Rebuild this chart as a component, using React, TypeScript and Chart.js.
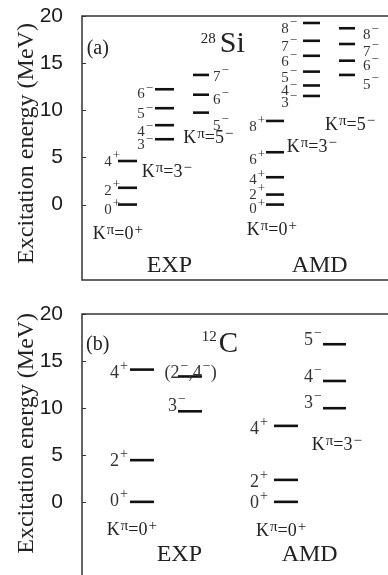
import React, { useEffect, useRef } from 'react';
import { Chart, registerables } from 'chart.js';

Chart.register(...registerables);

// ---------------- data ----------------
const yTicks = [0, 5, 10, 15, 20];
const yMin = -8;
const yMax = 20;
const axisTitle = 'Excitation energy (MeV)';
const columnTitles = ['EXP', 'AMD'];

// 28Si  (MeV)
const siExpK0E = [0, 1.78, 4.62];
const siExpK0J = ['0^+', '2^+', '4^+'];
const siExpK3E = [6.93, 8.42, 10.22, 12.23];
const siExpK3J = ['3^−', '4^−', '5^−', '6^−'];
const siExpK5E = [9.75, 11.65, 13.75];
const siExpK5J = ['5^−', '6^−', '7^−'];
const siAmdK0E = [0, 1.06, 2.9, 5.55, 8.87];
const siAmdK0J = ['0^+', '2^+', '4^+', '6^+', '8^+'];
const siAmdK3E = [11.52, 12.63, 14.1, 15.78, 17.37, 19.26];
const siAmdK3J = ['3^−', '4^−', '5^−', '6^−', '7^−', '8^−'];
const siAmdK5E = [13.75, 15.26, 17.03, 18.7];
const siAmdK5J = ['5^−', '6^−', '7^−', '8^−'];

// 12C  (MeV)
const cExpK0E = [0, 4.44, 14.08];
const cExpK0J = ['0^+', '2^+', '4^+'];
const cExpK3E = [9.64, 13.35];
const cExpK3J = ['3^−', '(2^−,4^−)'];
const cAmdK0E = [0, 2.34, 8.09];
const cAmdK0J = ['0^+', '2^+', '4^+'];
const cAmdK3E = [9.97, 12.87, 16.78];
const cAmdK3J = ['3^−', '4^−', '5^−'];

// ---------------- styles / layout ----------------
const SERIF = '"Liberation Serif", "Times New Roman", Times, serif';
const SANS = '"Liberation Sans", Arial, Helvetica, sans-serif';
const X_MAX = 318; // x units: pixels from plot's left edge

type Rich = { size: number; sup: number; raise: number; supGap: number; afterSup?: number };
type Band = {
  E: number[];
  J: string[];
  tag: string | null;
  x: [number, number];
  side: 'left' | 'right';
  gap: number[];
  dy: number[];
  tagAt: [number, number];
};
type Panel = {
  name: string;
  letter: string;
  nameAt: [number, number];
  letterAt: [number, number];
  titlesAt: [number, number][];
  titleE: number;
  spin: Rich;
  nameStyle: Rich;
  bands: Band[];
};

const bandStyle: Rich = { size: 18, sup: 15, raise: 5, supGap: 1 };

const panelA: Panel = {
  name: '^{28}Si',
  letter: '(a)',
  nameAt: [118.7, 16.2],
  letterAt: [4.7, 15.97],
  titlesAt: [[64.7, -7.1], [209.7, -7.1]],
  titleE: 6.48,
  spin: { size: 15, sup: 13, raise: 6.5, supGap: 1 },
  nameStyle: { size: 30, sup: 15, raise: 8.5, supGap: 0, afterSup: 4 },
  bands: [
    { E: siExpK0E, J: siExpK0J, tag: 'K^π=0^+', x: [36, 55], side: 'left', gap: [-2, -2, -2], dy: [4, 2, 0], tagAt: [10.7, -3.64] },
    { E: siExpK3E, J: siExpK3J, tag: 'K^π=3^−', x: [73, 92], side: 'left', gap: [2, 2, 2, 2], dy: [5, 6, 5, 4], tagAt: [59.7, 2.94] },
    { E: siExpK5E, J: siExpK5J, tag: 'K^π=5^−', x: [111, 127], side: 'right', gap: [4, 4, 4], dy: [12, 4, 1], tagAt: [101.3, 6.54] },
    { E: siAmdK0E, J: siAmdK0J, tag: 'K^π=0^+', x: [184, 202], side: 'left', gap: [1, 1, 1, 1, 1], dy: [3.5, -1, 2, 7, 5], tagAt: [164.7, -3.21] },
    { E: siAmdK3E, J: siAmdK3J, tag: 'K^π=3^−', x: [221, 238], side: 'left', gap: [6, 6, 6, 6, 6, 6], dy: [6, 5, 5, 5, 5, 5], tagAt: [204.7, 5.59] },
    { E: siAmdK5E, J: siAmdK5J, tag: 'K^π=5^−', x: [257, 273], side: 'right', gap: [8, 8, 8, 8], dy: [9, 4, 7, 6], tagAt: [243, 7.92] },
  ],
};

const panelB: Panel = {
  name: '^{12}C',
  letter: '(b)',
  nameAt: [119.7, 16.0],
  letterAt: [4, 16.17],
  titlesAt: [[74.7, -6.28], [199.7, -6.28]],
  titleE: 7.3,
  spin: { size: 18, sup: 14, raise: 8, supGap: 1 },
  nameStyle: { size: 29, sup: 15, raise: 11, supGap: 0, afterSup: 2 },
  bands: [
    { E: cExpK0E, J: cExpK0J, tag: 'K^π=0^+', x: [48, 72], side: 'left', gap: [2, 2, 2], dy: [-1.5, 0, 2], tagAt: [24.7, -3.51] },
    { E: cExpK3E, J: cExpK3J, tag: null, x: [96, 120], side: 'left', gap: [-8, -38.7], dy: [-6, -4], tagAt: [0, 0] },
    { E: cAmdK0E, J: cAmdK0J, tag: 'K^π=0^+', x: [192, 216], side: 'left', gap: [6, 6, 6], dy: [0.5, 1, 2], tagAt: [174, -3.62] },
    { E: cAmdK3E, J: cAmdK3J, tag: 'K^π=3^−', x: [241, 264], side: 'left', gap: [1, 1, 1], dy: [-6, -5, -5], tagAt: [229.7, 5.53] },
  ],
};

// ---------------- rich text ----------------
type Tok = { t: string; sup: boolean };
function parseRich(s: string): Tok[] {
  const out: Tok[] = [];
  let buf = '';
  for (let i = 0; i < s.length; i++) {
    const c = s[i];
    if (c === '^' && i + 1 < s.length) {
      if (buf) { out.push({ t: buf, sup: false }); buf = ''; }
      if (s[i + 1] === '{') {
        const end = s.indexOf('}', i + 2);
        out.push({ t: s.slice(i + 2, end), sup: true });
        i = end;
      } else {
        out.push({ t: s[i + 1], sup: true });
        i++;
      }
    } else buf += c;
  }
  if (buf) out.push({ t: buf, sup: false });
  return out;
}

function drawRich(ctx: CanvasRenderingContext2D, s: string, x: number, y: number, align: 'left' | 'right', st: Rich, color: string) {
  const toks = parseRich(s);
  const after = st.afterSup || 0;
  const widths = toks.map((tk) => {
    ctx.font = `${tk.sup ? st.sup : st.size}px ${SERIF}`;
    return ctx.measureText(tk.t).width + (tk.sup ? st.supGap + after : 0);
  });
  const total = widths.reduce((a, b) => a + b, 0);
  let cx = align === 'right' ? x - total : x;
  ctx.fillStyle = color;
  ctx.textAlign = 'left';
  ctx.textBaseline = 'alphabetic';
  toks.forEach((tk, i) => {
    ctx.font = `${tk.sup ? st.sup : st.size}px ${SERIF}`;
    ctx.fillText(tk.t, cx + (tk.sup ? st.supGap : 0), tk.sup ? y - st.raise : y);
    cx += widths[i];
  });
}

// ---------------- chart ----------------
function makePlugin(cfg: Panel) {
  return {
    id: 'levelScheme',
    afterDraw(chart: any) {
      const ctx: CanvasRenderingContext2D = chart.ctx;
      const { left, right, top, bottom } = chart.chartArea;
      const xs = chart.scales.x;
      const ys = chart.scales.y;
      ctx.save();
      // frame
      ctx.strokeStyle = '#333';
      ctx.lineWidth = 1.5;
      ctx.strokeRect(left, top, right - left, bottom - top);
      // inward ticks
      ctx.lineWidth = 1;
      yTicks.forEach((v) => {
        const py = Math.round(ys.getPixelForValue(v)) + 0.5;
        ctx.beginPath();
        ctx.moveTo(left, py);
        ctx.lineTo(left + 4, py);
        ctx.stroke();
      });
      // axis title
      ctx.save();
      ctx.translate(33, ys.getPixelForValue(cfg.titleE));
      ctx.rotate(-Math.PI / 2);
      ctx.font = `24px ${SERIF}`;
      ctx.fillStyle = '#222';
      ctx.textAlign = 'center';
      ctx.textBaseline = 'alphabetic';
      ctx.fillText(axisTitle, 0, 0);
      ctx.restore();
      // panel letter, nucleus
      drawRich(ctx, cfg.letter, xs.getPixelForValue(cfg.letterAt[0]), ys.getPixelForValue(cfg.letterAt[1]), 'left', { size: 20, sup: 14, raise: 6, supGap: 0 }, '#222');
      drawRich(ctx, cfg.name, xs.getPixelForValue(cfg.nameAt[0]), ys.getPixelForValue(cfg.nameAt[1]), 'left', cfg.nameStyle, '#222');
      // column titles
      columnTitles.forEach((t, i) => {
        const p = cfg.titlesAt[i];
        drawRich(ctx, t, xs.getPixelForValue(p[0]), ys.getPixelForValue(p[1]), 'left', { size: 24, sup: 14, raise: 6, supGap: 0 }, '#222');
      });
      // bands
      cfg.bands.forEach((b) => {
        const x1 = xs.getPixelForValue(b.x[0]);
        const x2 = xs.getPixelForValue(b.x[1]);
        b.E.forEach((e, i) => {
          const ly = ys.getPixelForValue(e);
          const base = ly + b.dy[i] + 0.33 * cfg.spin.size;
          if (b.side === 'left') drawRich(ctx, b.J[i], x1 - b.gap[i], base, 'right', cfg.spin, '#333');
          else drawRich(ctx, b.J[i], x2 + b.gap[i], base, 'left', cfg.spin, '#333');
        });
        if (b.tag) drawRich(ctx, b.tag, xs.getPixelForValue(b.tagAt[0]), ys.getPixelForValue(b.tagAt[1]), 'left', bandStyle, '#222');
      });
      ctx.restore();
    },
  };
}

function PanelChart({ cfg, top, height }: { cfg: Panel; top: number; height: number }) {
  const ref = useRef<HTMLCanvasElement>(null);
  useEffect(() => {
    const datasets = cfg.bands.flatMap((b) =>
      b.E.map((e) => ({
        data: [{ x: b.x[0], y: e }, { x: b.x[1], y: e }],
        borderColor: '#111',
        backgroundColor: '#111',
        borderWidth: 2.6,
        pointRadius: 0,
        showLine: true,
        fill: false,
        borderCapStyle: 'butt' as const,
      }))
    );
    const chart = new Chart(ref.current as HTMLCanvasElement, {
      type: 'scatter',
      data: { datasets },
      plugins: [makePlugin(cfg)],
      options: {
        animation: false,
        responsive: false,
        devicePixelRatio: 1,
        events: [],
        layout: { padding: { top: 16, bottom: 14, left: 0, right: 0 } },
        plugins: { legend: { display: false }, tooltip: { enabled: false } },
        scales: {
          x: { type: 'linear', min: 0, max: X_MAX, display: false },
          y: {
            type: 'linear',
            min: yMin,
            max: yMax,
            position: 'left',
            afterBuildTicks: (s: any) => { s.ticks = yTicks.map((v) => ({ value: v })); },
            afterFit: (s: any) => { s.width = 82; },
            ticks: { padding: 0, color: '#1a1a1a', font: { family: SANS, size: 21 }, callback: (v: any) => String(v), autoSkip: false },
            grid: { display: true, drawOnChartArea: false, drawTicks: true, tickLength: 19, tickColor: 'rgba(0,0,0,0)', color: 'rgba(0,0,0,0)' },
            border: { display: false },
          },
        },
      } as any,
    });
    return () => chart.destroy();
  }, []);
  return <canvas ref={ref} width={400} height={height} style={{ position: 'absolute', left: 0, top, width: 400, height }} />;
}

export default function App() {
  return (
    <div style={{ position: 'fixed', left: 0, top: 0, width: 388, height: 575, overflow: 'hidden', background: '#fff' }}>
      <PanelChart cfg={panelA} top={0} height={294} />
      <PanelChart cfg={panelB} top={298} height={293} />
    </div>
  );
}
